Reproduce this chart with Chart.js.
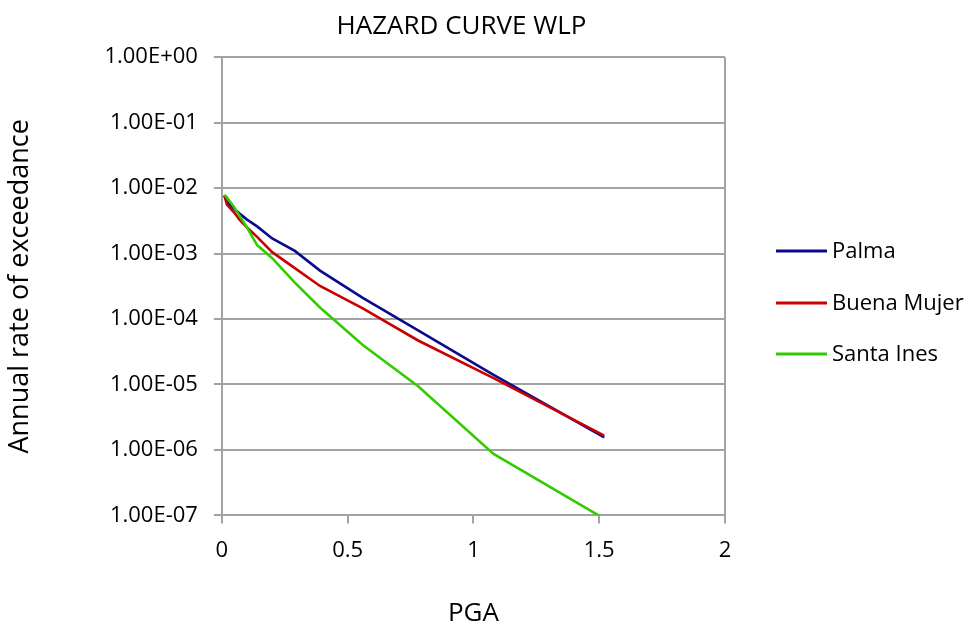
<!DOCTYPE html>
<html>
<head>
<meta charset="utf-8">
<script src="https://cdn.jsdelivr.net/npm/chart.js@4"></script>
<style>
  html, body { margin: 0; padding: 0; background: #fff; }
  #wrap { width: 971px; height: 629px; }
</style>
</head>
<body>
<div id="wrap"><canvas id="chart" width="971" height="629"></canvas></div>
<script>
// PGA values (g) shared by all sites
const pga = [0.01, 0.02, 0.05, 0.07, 0.1, 0.14, 0.2, 0.29, 0.39, 0.56, 0.78, 1.08, 1.52]

// annual rate of exceedance
const palma = [7.6e-3, 6.2e-3, 4.8e-3, 4.1e-3, 3.3e-3, 2.6e-3, 1.7e-3, 1.1e-3, 5.5e-4, 2.1e-4, 6.7e-5, 1.4e-5, 1.55e-6]
const buenaMujer = [7.8e-3, 5.6e-3, 4.2e-3, 3.3e-3, 2.5e-3, 1.8e-3, 1.05e-3, 6.0e-4, 3.2e-4, 1.45e-4, 4.7e-5, 1.25e-5, 1.66e-6]
const santaInes = [7.9e-3, 7.2e-3, 5.0e-3, 3.8e-3, 2.5e-3, 1.35e-3, 8.5e-4, 3.6e-4, 1.5e-4, 4.0e-5, 9.4e-6, 8.7e-7, 8.9e-8]

const seriesNames = ['Palma', 'Buena Mujer', 'Santa Ines']
const seriesColors = ['#0a0a8c', '#cc0000', '#33cc00']

const yTicks = [1, 1e-1, 1e-2, 1e-3, 1e-4, 1e-5, 1e-6, 1e-7]
const xTicks = [0, 0.5, 1, 1.5, 2]

const FONT = "'Open Sans', 'DejaVu Sans', sans-serif"
const GRID = '#a3a3a3'

const toPoints = (ys) => pga.map((x, i) => ({ x: x, y: ys[i] }))

// Excel style scientific label, e.g. 1.00E-03
const sci = (v) => {
  const e = Math.round(Math.log10(v))
  const sign = e < 0 ? '-' : '+'
  return '1.00E' + sign + String(Math.abs(e)).padStart(2, '0')
}

// legend drawn by hand so it sits where the original one does
const sideLegend = {
  id: 'sideLegend',
  afterDraw(chart) {
    const ctx = chart.ctx
    const rows = [251, 303, 354]
    ctx.save()
    ctx.font = '22px ' + FONT
    ctx.textBaseline = 'middle'
    ctx.fillStyle = '#000'
    chart.data.datasets.forEach((ds, i) => {
      const y = rows[i]
      ctx.strokeStyle = ds.borderColor
      ctx.lineWidth = 3
      ctx.beginPath()
      ctx.moveTo(776, y)
      ctx.lineTo(827, y)
      ctx.stroke()
      ctx.fillText(ds.label, 832, y + 1)
    })
    ctx.restore()
  }
}

const datasets = [palma, buenaMujer, santaInes].map((ys, i) => ({
  label: seriesNames[i],
  data: toPoints(ys),
  borderColor: seriesColors[i],
  backgroundColor: seriesColors[i],
  borderWidth: 2.6,
  pointRadius: 0,
  tension: 0,
  order: 3 - i
}))

new Chart(document.getElementById('chart'), {
  type: 'line',
  data: { datasets: datasets },
  options: {
    responsive: false,
    animation: false,
    layout: { padding: { left: 0, right: 48, top: 0, bottom: 0 } },
    plugins: {
      legend: { display: false },
      tooltip: { enabled: false },
      title: {
        display: true,
        text: 'HAZARD CURVE WLP',
        color: '#000',
        font: { family: FONT, size: 26, weight: 'normal' },
        padding: { top: 11, bottom: 15 }
      }
    },
    scales: {
      x: {
        type: 'linear',
        min: 0,
        max: 2,
        afterBuildTicks: (scale) => { scale.ticks = xTicks.map(v => ({ value: v })) },
        ticks: {
          color: '#000',
          font: { family: FONT, size: 22 },
          padding: 14,
          callback: (v) => String(v)
        },
        grid: {
          color: (c) => (c.tick && c.tick.value === 2) ? GRID : 'rgba(0,0,0,0)',
          lineWidth: 2,
          tickColor: GRID,
          tickWidth: 2,
          tickLength: 8
        },
        border: { display: true, color: GRID, width: 2 },
        title: {
          display: true,
          text: 'PGA',
          color: '#000',
          font: { family: FONT, size: 26, weight: 'normal' },
          padding: { top: 20, bottom: 0 }
        }
      },
      y: {
        type: 'logarithmic',
        min: 1e-7,
        max: 1,
        afterBuildTicks: (scale) => { scale.ticks = yTicks.map(v => ({ value: v })) },
        ticks: {
          color: '#000',
          font: { family: FONT, size: 22 },
          padding: 16,
          callback: (v) => sci(v)
        },
        grid: {
          color: GRID,
          lineWidth: 2,
          tickColor: GRID,
          tickLength: 8
        },
        border: { display: true, color: GRID, width: 2 },
        title: {
          display: true,
          text: 'Annual rate of exceedance',
          color: '#000',
          font: { family: FONT, size: 27, weight: 'normal' },
          padding: { top: 4, bottom: 52 }
        }
      },
      // empty right-hand axis that only reserves room for the legend
      side: {
        type: 'linear',
        position: 'right',
        display: true,
        grid: { display: false },
        border: { display: false },
        ticks: { display: false },
        afterFit: (scale) => { scale.width = 198 }
      }
    }
  },
  plugins: [sideLegend]
})
</script>
</body>
</html>
